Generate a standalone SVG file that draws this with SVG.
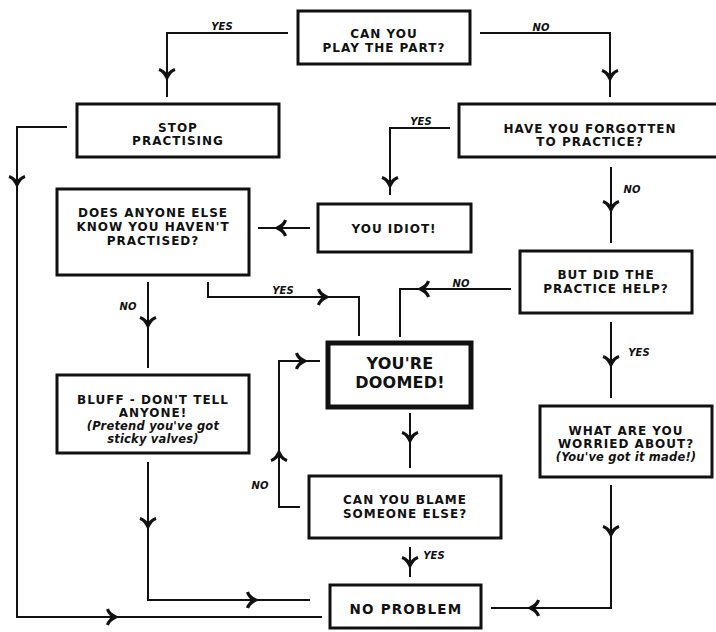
<svg xmlns="http://www.w3.org/2000/svg" xmlns:xlink="http://www.w3.org/1999/xlink" width="716" height="632" viewBox="0 0 716 632">
<style>
.box{fill:#fff;stroke:#111;stroke-width:3}
.doom{fill:#fff;stroke:#111;stroke-width:5}
.t{font-family:"DejaVu Sans","Liberation Sans",sans-serif;font-weight:bold;font-size:12px;letter-spacing:1px;fill:#111;text-anchor:middle}
.ti{font-style:italic;font-size:11.5px;letter-spacing:0.2px}
.big{font-size:16px;letter-spacing:0.2px}
.np{font-size:13.5px;letter-spacing:1.2px}
.lbl{font-family:"DejaVu Sans","Liberation Sans",sans-serif;font-weight:bold;font-style:italic;font-size:10px;fill:#111;text-anchor:middle}
.c{fill:none;stroke:#111;stroke-width:2}
.ah{fill:#111}
</style>
<defs>
<path id="ah" d="M0,7 C-2,1 -5,-3 -8.5,-4 L-7.5,-7 C-4.5,-6 -2,-4 0,-1.5 C2,-4 4.5,-6 7.5,-7 L8.5,-4 C5,-3 2,1 0,7 Z"/>
</defs>
<rect width="716" height="632" fill="#fff"/>

<g id="connectors">
<path class="c" d="M288,33 H167 V97"/>
<path class="c" d="M480,33 H610 V97"/>
<path class="c" d="M67,127 H17 V617 H322"/>
<path class="c" d="M450,128 H390 V195"/>
<path class="c" d="M310,228 H258"/>
<path class="c" d="M611,167 V243"/>
<path class="c" d="M208,282 V297 H359 V336"/>
<path class="c" d="M511,289 H400 V337"/>
<path class="c" d="M148,282 V368"/>
<path class="c" d="M611,322 V398"/>
<path class="c" d="M410,413 V468"/>
<path class="c" d="M300,507 H279 V361 H320"/>
<path class="c" d="M410,547 V577"/>
<path class="c" d="M148,462 V600 H310"/>
<path class="c" d="M611,485 V608 H491"/>
<g class="ah">
<use xlink:href="#ah" transform="translate(167,75)"/>
<use xlink:href="#ah" transform="translate(610,76)"/>
<use xlink:href="#ah" transform="translate(17,182)"/>
<use xlink:href="#ah" transform="translate(113,617) rotate(-90)"/>
<use xlink:href="#ah" transform="translate(390,183)"/>
<use xlink:href="#ah" transform="translate(280,228) rotate(90)"/>
<use xlink:href="#ah" transform="translate(611,207)"/>
<use xlink:href="#ah" transform="translate(324,297) rotate(-90)"/>
<use xlink:href="#ah" transform="translate(423,289) rotate(90)"/>
<use xlink:href="#ah" transform="translate(148,323)"/>
<use xlink:href="#ah" transform="translate(611,362)"/>
<use xlink:href="#ah" transform="translate(410,438)"/>
<use xlink:href="#ah" transform="translate(279,455) rotate(180)"/>
<use xlink:href="#ah" transform="translate(302,361) rotate(-90)"/>
<use xlink:href="#ah" transform="translate(410,563)"/>
<use xlink:href="#ah" transform="translate(148,524)"/>
<use xlink:href="#ah" transform="translate(253,600) rotate(-90)"/>
<use xlink:href="#ah" transform="translate(611,532)"/>
<use xlink:href="#ah" transform="translate(533,608) rotate(90)"/>
</g>
<text class="lbl" x="222" y="30">YES</text>
<text class="lbl" x="541" y="31">NO</text>
<text class="lbl" x="421" y="125">YES</text>
<text class="lbl" x="632" y="193">NO</text>
<text class="lbl" x="283" y="294">YES</text>
<text class="lbl" x="128" y="310">NO</text>
<text class="lbl" x="461" y="287">NO</text>
<text class="lbl" x="639" y="356">YES</text>
<text class="lbl" x="260" y="489">NO</text>
<text class="lbl" x="434" y="559">YES</text>
</g>

<g id="can-you-play">
<rect class="box" x="298" y="11" width="172" height="53"/>
<text class="t" x="384" y="37.5">CAN YOU</text>
<text class="t" x="384" y="51.5">PLAY THE PART?</text>
</g>
<g id="stop-practising">
<rect class="box" x="77" y="104" width="202" height="53"/>
<text class="t" x="178" y="131.5">STOP</text>
<text class="t" x="178" y="144.5">PRACTISING</text>
</g>
<g id="forgotten">
<rect class="box" x="459" y="104" width="262" height="53"/>
<text class="t" x="590" y="132.5">HAVE YOU FORGOTTEN</text>
<text class="t" x="590" y="145.5">TO PRACTICE?</text>
</g>
<g id="does-anyone">
<rect class="box" x="57" y="189" width="192" height="86"/>
<text class="t" x="153" y="216.5">DOES ANYONE ELSE</text>
<text class="t" x="153" y="230.5">KNOW YOU HAVEN'T</text>
<text class="t" x="153" y="244.5">PRACTISED?</text>
</g>
<g id="you-idiot">
<rect class="box" x="318" y="204" width="153" height="48"/>
<text class="t" x="394" y="232.5">YOU IDIOT!</text>
</g>
<g id="practice-help">
<rect class="box" x="520" y="251" width="172" height="62"/>
<text class="t" x="606" y="278.5">BUT DID THE</text>
<text class="t" x="606" y="292.5">PRACTICE HELP?</text>
</g>
<g id="doomed">
<rect class="doom" x="328" y="343" width="143" height="64"/>
<text class="t big" x="400" y="369">YOU'RE</text>
<text class="t big" x="400" y="388">DOOMED!</text>
</g>
<g id="bluff">
<rect class="box" x="57" y="375" width="192" height="78"/>
<text class="t" x="153" y="403.5">BLUFF - DON'T TELL</text>
<text class="t" x="153" y="417">ANYONE!</text>
<text class="t ti" x="153" y="430">(Pretend you've got</text>
<text class="t ti" x="153" y="443">sticky valves)</text>
</g>
<g id="worried">
<rect class="box" x="540" y="406" width="172" height="71"/>
<text class="t" x="626" y="434.5">WHAT ARE YOU</text>
<text class="t" x="626" y="447.5">WORRIED ABOUT?</text>
<text class="t ti" x="626" y="460.5">(You've got it made!)</text>
</g>
<g id="blame">
<rect class="box" x="309" y="476" width="192" height="62"/>
<text class="t" x="405" y="503.5">CAN YOU BLAME</text>
<text class="t" x="405" y="517.5">SOMEONE ELSE?</text>
</g>
<g id="no-problem">
<rect class="box" x="330" y="585" width="151" height="43"/>
<text class="t np" x="406" y="614">NO PROBLEM</text>
</g>
</svg>
